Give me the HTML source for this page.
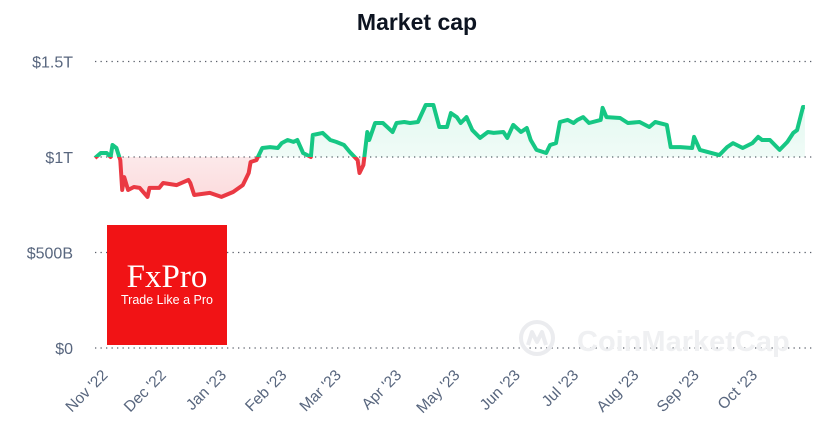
<!DOCTYPE html>
<html><head><meta charset="utf-8"><style>
html,body{margin:0;padding:0;background:#fff;}
svg{display:block;font-family:"Liberation Sans",Arial,sans-serif;}
</style></head><body>
<svg id="chart" width="835" height="445" viewBox="0 0 835 445">
<defs>
<linearGradient id="gG" x1="0" y1="0" x2="0" y2="1"><stop offset="0" stop-color="#16c784" stop-opacity="0.12"/><stop offset="1" stop-color="#16c784" stop-opacity="0.02"/></linearGradient>
<linearGradient id="gR" x1="0" y1="0" x2="0" y2="1"><stop offset="0" stop-color="#ea3943" stop-opacity="0.02"/><stop offset="1" stop-color="#ea3943" stop-opacity="0.18"/></linearGradient>
<clipPath id="cAbove"><rect x="0" y="0" width="835" height="157"/></clipPath>
<clipPath id="cBelow"><rect x="0" y="157" width="835" height="300"/></clipPath>
</defs>
<text x="417" y="30" text-anchor="middle" font-size="23" font-weight="bold" fill="#0d1421">Market cap</text>
<g id="grid"></g>
<g id="watermark" fill="none" stroke="#ebecef" stroke-width="4">
<circle cx="537" cy="338" r="16"/>
<path d="M528,345 L532,332 L537,342 L542,332 L546,345" stroke-linejoin="round"/>
<text x="577" y="351" font-size="29" font-weight="bold" fill="#eff0f2" stroke="none">CoinMarketCap</text>
</g>
<g>
<rect x="107" y="225" width="120" height="120" fill="#f11315"/>
<text x="167" y="287" text-anchor="middle" font-family="Liberation Serif,serif" font-size="33" fill="#fff">FxPro</text>
<text x="167" y="304" text-anchor="middle" font-size="12.5" fill="#fff">Trade Like a Pro</text>
</g>
<g id="series"></g>
<g id="xaxis"></g>
</svg>
<script>
const days=[0,3,6,8,9,11,13,14,15,17,20,23,27,28,33,35,42,48,49,51,59,65,71,76,79,80,83,86,90,94,96,99,102,104,107,111,112,117,121,124,128,131,135,136,138,140,141,144,148,153,155,159,162,166,170,174,177,181,183,186,188,191,194,198,202,205,210,212,215,219,222,224,227,232,234,237,239,243,246,248,251,254,260,261,263,270,274,280,285,288,294,296,301,307,308,311,321,325,328,333,338,341,343,347,352,356,359,361,364,365];
const capB=[995,1021,1021,1000,1063,1047,984,827,895,827,843,838,791,838,838,864,853,880,864,801,812,791,817,853,916,974,984,1047,1052,1047,1073,1089,1079,1089,1021,1000,1115,1126,1089,1079,1063,1026,984,916,958,1131,1089,1178,1178,1131,1178,1183,1178,1183,1272,1272,1157,1157,1230,1209,1178,1209,1141,1100,1131,1126,1131,1100,1168,1131,1152,1089,1037,1021,1063,1073,1183,1194,1178,1194,1209,1178,1194,1257,1209,1204,1178,1183,1157,1183,1168,1052,1052,1047,1105,1037,1010,1052,1073,1047,1073,1105,1089,1089,1037,1079,1126,1141,1262,1262];
const yTicks=[0,500,1000,1500];
const yTickLabels=["$0","$500B","$1T","$1.5T"];
const monthDays=[7,37,68,99,127,158,188,219,249,280,311,341];
const monthLabels=["Nov '22","Dec '22","Jan '23","Feb '23","Mar '23","Apr '23","May '23","Jun '23","Jul '23","Aug '23","Sep '23","Oct '23"];
const baseline=1000;
const NS="http://www.w3.org/2000/svg";
const X=d=>95+d*1.945;
const Y=v=>348-v*0.191;
function mk(t,a,p){const e=document.createElementNS(NS,t);for(const k in a)e.setAttribute(k,a[k]);p.appendChild(e);return e;}
const grid=document.getElementById('grid');
yTicks.forEach((v,i)=>{
 const l=mk('line',{x1:95,x2:812,y1:Y(v),y2:Y(v),stroke:'#5a5f6a','stroke-width':1.3,'stroke-dasharray':'1.3 4.2'},grid);
 
 
 const t=mk('text',{x:73,y:Y(v)+6,'text-anchor':'end','font-size':16,fill:'#58667e'},grid);
 t.textContent=yTickLabels[i];
 
 
});
const xa=document.getElementById('xaxis');
monthDays.forEach((d,i)=>{
 const x=X(d);
 const t=mk('text',{x:x,y:376,'text-anchor':'end','font-size':15.5,fill:'#58667e',transform:`rotate(-45 ${x} 376)`},xa);
 t.textContent=monthLabels[i];
 
 
});
const s=document.getElementById('series');
let line='';days.forEach((d,i)=>{line+=(i?'L':'M')+X(d).toFixed(1)+','+Y(capB[i]).toFixed(1);});
const yb=Y(baseline);
const area=line+`L${X(days[days.length-1])},${yb}L${X(days[0])},${yb}Z`;
const ag=mk('path',{d:area,fill:'url(#gG)','clip-path':'url(#cAbove)'},s);


const ar=mk('path',{d:area,fill:'url(#gR)','clip-path':'url(#cBelow)'},s);


const lg=mk('path',{d:line,fill:'none',stroke:'#16c784','stroke-width':4,'stroke-linejoin':'round','clip-path':'url(#cAbove)'},s);


const lr=mk('path',{d:line,fill:'none',stroke:'#ea3943','stroke-width':4,'stroke-linejoin':'round','clip-path':'url(#cBelow)'},s);


</script>
</body></html>
